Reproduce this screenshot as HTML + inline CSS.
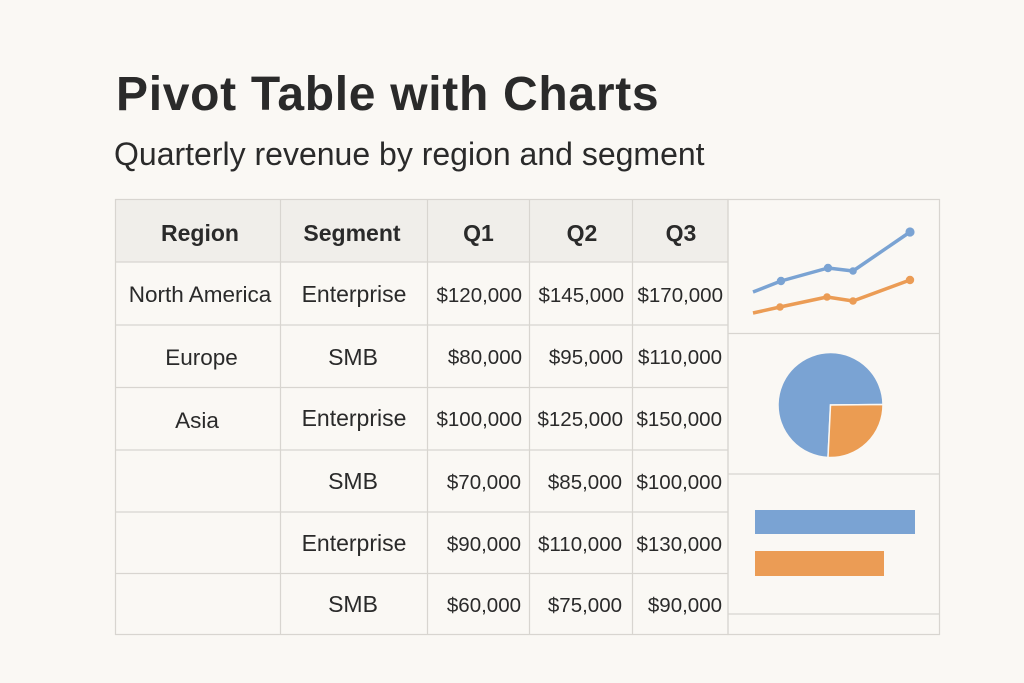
<!DOCTYPE html>
<html>
<head>
<meta charset="utf-8">
<style>
  html, body { margin: 0; padding: 0; background: #faf8f4; }
  body { width: 1024px; height: 683px; overflow: hidden; }
  svg { display: block; }
  text { font-family: "Liberation Sans", sans-serif; fill: #2a2a2a; }
  .h { font-weight: bold; font-size: 23px; }
  .r { font-size: 22.5px; }
  .s { font-size: 23px; }
  .n { font-size: 20.5px; }
</style>
</head>
<body>
<svg width="1024" height="683" viewBox="0 0 1024 683" xmlns="http://www.w3.org/2000/svg">
  <rect x="0" y="0" width="1024" height="683" fill="#faf8f4"/>

  <!-- Title -->
  <text x="116" y="110" font-size="48" font-weight="bold" letter-spacing="0.7" fill="#2a2a2a">Pivot Table with Charts</text>
  <text x="114" y="165" font-size="32" fill="#2e2e2e">Quarterly revenue by region and segment</text>

  <!-- Header background -->
  <rect x="115.5" y="199.5" width="612.5" height="62.5" fill="#f0eeea"/>

  <!-- Grid lines -->
  <g stroke="#d8d5d0" stroke-width="1.2" fill="none">
    <rect x="115.5" y="199.5" width="612.5" height="435"/>
    <line x1="280.5" y1="199.5" x2="280.5" y2="634.5"/>
    <line x1="427.5" y1="199.5" x2="427.5" y2="634.5"/>
    <line x1="529.5" y1="199.5" x2="529.5" y2="634.5"/>
    <line x1="632.5" y1="199.5" x2="632.5" y2="634.5"/>
    <line x1="115.5" y1="262" x2="728" y2="262"/>
    <line x1="115.5" y1="325" x2="728" y2="325"/>
    <line x1="115.5" y1="387.5" x2="728" y2="387.5"/>
    <line x1="115.5" y1="450" x2="728" y2="450"/>
    <line x1="115.5" y1="512" x2="728" y2="512"/>
    <line x1="115.5" y1="573.5" x2="728" y2="573.5"/>
    <!-- chart panel -->
    <rect x="728" y="199.5" width="211.5" height="435"/>
    <line x1="728" y1="333.5" x2="939.5" y2="333.5"/>
    <line x1="728" y1="474" x2="939.5" y2="474"/>
    <line x1="728" y1="614" x2="939.5" y2="614"/>
  </g>

  <!-- Header text -->
  <text class="h" x="200" y="241" text-anchor="middle">Region</text>
  <text class="h" x="352" y="241" text-anchor="middle">Segment</text>
  <text class="h" x="478.5" y="241" text-anchor="middle">Q1</text>
  <text class="h" x="582" y="241" text-anchor="middle">Q2</text>
  <text class="h" x="681" y="241" text-anchor="middle">Q3</text>

  <!-- Region column -->
  <text class="r" x="200" y="302" text-anchor="middle">North America</text>
  <text class="r" x="201.5" y="365" text-anchor="middle">Europe</text>
  <text class="r" x="197" y="428" text-anchor="middle">Asia</text>

  <!-- Segment column -->
  <text class="s" x="354" y="302" text-anchor="middle">Enterprise</text>
  <text class="s" x="353" y="365" text-anchor="middle">SMB</text>
  <text class="s" x="354" y="426" text-anchor="middle">Enterprise</text>
  <text class="s" x="353" y="489" text-anchor="middle">SMB</text>
  <text class="s" x="354" y="551" text-anchor="middle">Enterprise</text>
  <text class="s" x="353" y="612" text-anchor="middle">SMB</text>

  <!-- Q1 -->
  <text class="n" x="522" y="302" text-anchor="end">$120,000</text>
  <text class="n" x="522" y="364" text-anchor="end">$80,000</text>
  <text class="n" x="522" y="426" text-anchor="end">$100,000</text>
  <text class="n" x="521" y="489" text-anchor="end">$70,000</text>
  <text class="n" x="521" y="551" text-anchor="end">$90,000</text>
  <text class="n" x="521" y="612" text-anchor="end">$60,000</text>

  <!-- Q2 -->
  <text class="n" x="624" y="302" text-anchor="end">$145,000</text>
  <text class="n" x="623" y="364" text-anchor="end">$95,000</text>
  <text class="n" x="623" y="426" text-anchor="end">$125,000</text>
  <text class="n" x="622" y="489" text-anchor="end">$85,000</text>
  <text class="n" x="622" y="551" text-anchor="end">$110,000</text>
  <text class="n" x="622" y="612" text-anchor="end">$75,000</text>

  <!-- Q3 -->
  <text class="n" x="723" y="302" text-anchor="end">$170,000</text>
  <text class="n" x="722" y="364" text-anchor="end">$110,000</text>
  <text class="n" x="722" y="426" text-anchor="end">$150,000</text>
  <text class="n" x="722" y="489" text-anchor="end">$100,000</text>
  <text class="n" x="722" y="551" text-anchor="end">$130,000</text>
  <text class="n" x="722" y="612" text-anchor="end">$90,000</text>

  <!-- Line chart -->
  <polyline points="753,292 781,281 828,268 853,271 910,232" fill="none" stroke="#7aa3d3" stroke-width="3.5" stroke-linejoin="round"/>
  <g fill="#7aa3d3">
    <circle cx="781" cy="281" r="4.2"/>
    <circle cx="828" cy="268" r="4.2"/>
    <circle cx="853" cy="271" r="3.8"/>
    <circle cx="910" cy="232" r="4.6"/>
  </g>
  <polyline points="753,313 780,307 827,297 853,301 910,280" fill="none" stroke="#eb9c55" stroke-width="3.5" stroke-linejoin="round"/>
  <g fill="#eb9c55">
    <circle cx="780" cy="307" r="3.8"/>
    <circle cx="827" cy="297" r="3.8"/>
    <circle cx="853" cy="301" r="3.8"/>
    <circle cx="910" cy="280" r="4.2"/>
  </g>

  <!-- Pie chart -->
  <path d="M830.5,405 L828,457.5 A52.5,52.5 0 1 1 883,404.5 Z" fill="#7aa3d3" stroke="#faf8f4" stroke-width="1.5"/>
  <path d="M830.5,405 L883,404.5 A52.5,52.5 0 0 1 828,457.5 Z" fill="#eb9c52" stroke="#faf8f4" stroke-width="1.5"/>

  <!-- Bar chart -->
  <rect x="755" y="510" width="160" height="24" fill="#7aa3d3"/>
  <rect x="755" y="551" width="129" height="25" fill="#eb9c55"/>
</svg>
</body>
</html>
